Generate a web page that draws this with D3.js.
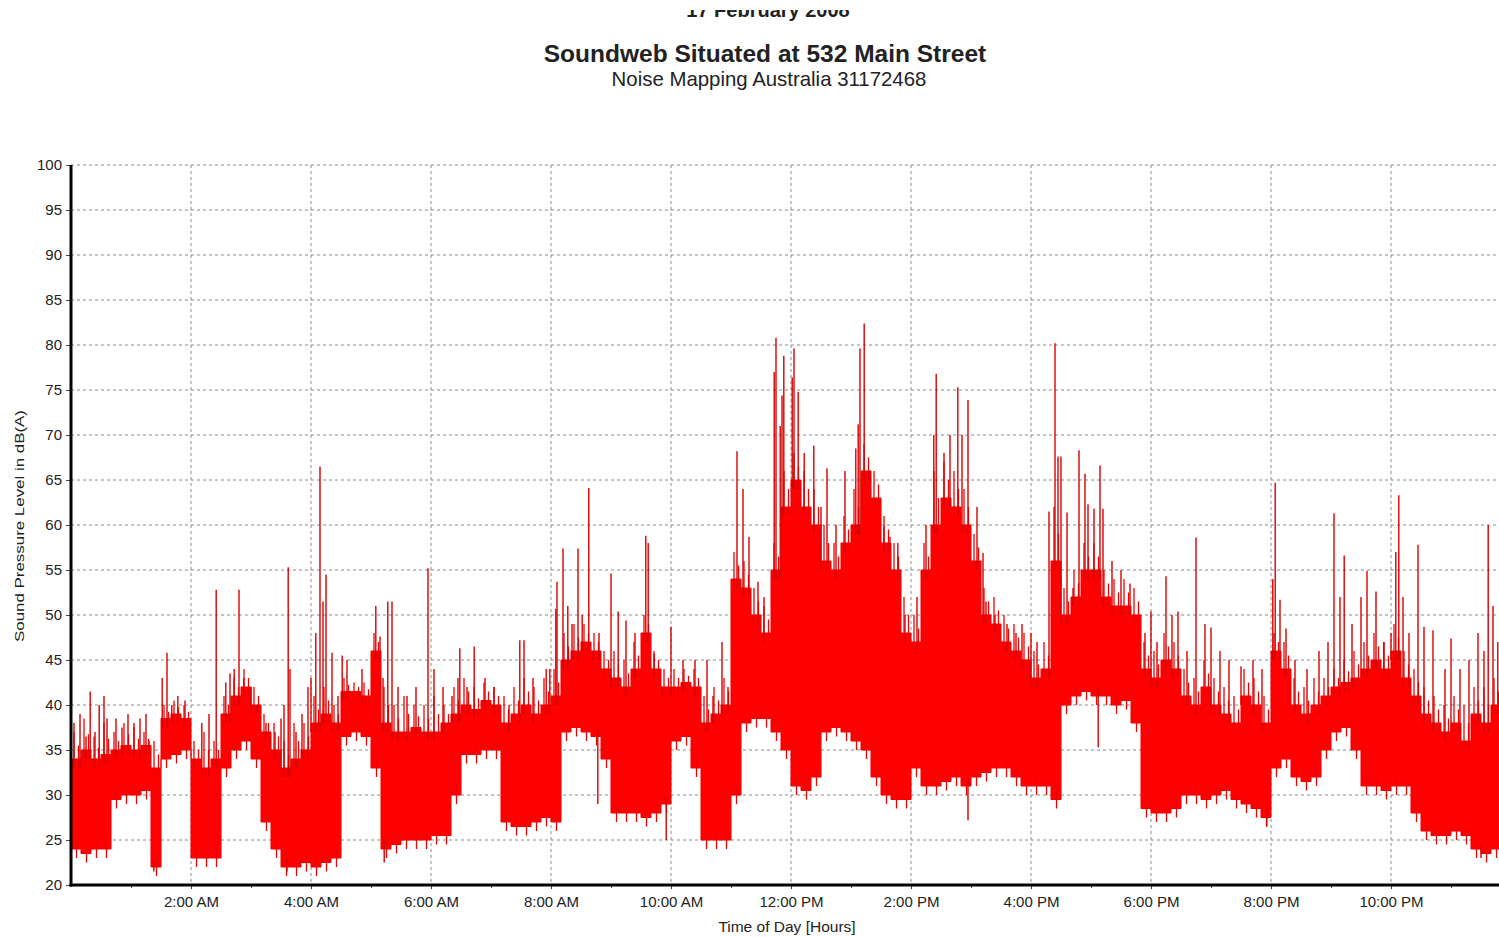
<!DOCTYPE html>
<html><head><meta charset="utf-8">
<script src="https://cdn.jsdelivr.net/npm/d3@7"></script>
<style>
html,body{margin:0;padding:0;background:#fff;}
svg{display:block;font-family:"Liberation Sans",Arial,sans-serif;}
</style></head>
<body>
<svg id="chart" width="1499" height="937"></svg>
<script>
// ---- data (10-minute buckets, envelope of the dense trace, dB(A)) ----
const bucketLow = [
 24,23.5,24,24,29.5,30,   30,30.5,22,34,34.5,35,
 23,23,23,33,35,36,       34,27,24,22,22,22.5,
 22,22.5,23,36.5,37,36.5, 33,24,24.5,25,25,25,
 25.5,25.5,30,34.5,34.5,35, 35,27,26.5,26.5,27,27.5,
 27,37,37.5,37,36.5,34,   28,28,28,27.5,28,29,
 36,36.5,33,25,25,25,     30,38,38.5,38.5,37,35,
 31,30.5,32,37,37.5,37,   36,35,32,30,29.5,29.5,
 33,31,31,31.5,32,31,     32,32.5,33,33,32,31,
 31,31,29.5,40,41,41.5,   41,41,40,40.5,38,28.5,
 28,28,28.5,30,30,29.5,   30,30.5,29.5,29,28.5,27.5,
 33,34,32,31.5,32,35,     37,37.5,35,31,31,30.5,
 31,31,28,26,25.5,25.5,   26,25.5,24,23.5,24,23.5
];
const bucketHigh = [
 34,35,34,34.5,35,35.5,   35,35.5,33,38.5,39,38.5,
 34,33,34,39,41,42,       40,37,35,33,34,35,
 38,39,38,41.5,41.5,41,   46,38,37,37,37.5,37,
 37,38,39,40,39.5,40.5,   40,38,39,40,39,40,
 41,45,46,47,46,44,       43,42,44,48,44,42,
 42,42.5,42,38,39,40,     54,53,50,48,55,62,
 65,62,60,56,55,58,       60,66,63,58,55,48,
 47,55,60,63,62,60,       56,50,49,47,46,45,
 43,44,56,50,52,55,       55,52,51,51,50,44,
 43,45,44,41,40,42,       40,39,38,41,40,38,
 46,44,40,39,40,41,       42,42.5,43,44,45,44,
 46,43,41,39,38,37,       38,36,39,38,40,36
];
// typical top of the frequent short excursions in each bucket
const bucketFringe = [
 37,38.5,36.5,38,37,38,   37.5,37,36,40,40.5,40,
 36,37,36,41,43,44,       42,39,38,36,38,38,
 41,42,40,43,42.5,42.5,   48,42,40,41,40,40,
 41,40,42,43,42,42.5,     42,41,42,43,42,43,
 44,48,49,49,48,46,       46,45,47,50,46,44,
 44,44,44,41,42,43,       57,56,53,51,58,66,
 68,66,64,60,58,61,       64,69,66,61,58,52,
 50,58,66,67,66,64,       59,53,52,50,49,48,
 46,47,62,53,55,58,       58,55,54,54,53,47,
 46,48,47,44,43,45,       43,42,41,44,43,41,
 48,47,43,42,43,43,       44,45,46,47,48,47,
 49,46,44,42,41,40,       41,40,42,42,43,40
];
// isolated peaks: [hour of day, level dB(A)]
const peaks = [
 [0.05,38],[0.15,39],[0.25,36.5],[0.32,41.5],[0.4,37],[0.47,40],[0.55,41],[0.6,38.5],
 [0.75,38.5],[0.85,37.5],[0.95,39],[1.05,38],[1.15,38.5],[1.25,39],[1.3,36],[1.52,43],
 [1.6,45.8],[1.68,40],[1.78,41],[1.9,40.5],[2.18,38],[2.3,39],[2.42,52.8],[2.58,42.5],
 [2.65,43.5],[2.72,44],[2.8,52.8],[2.88,43],[3.0,42],[3.1,40],[3.25,38],[3.4,37],
 [3.5,38.5],[3.55,40],[3.62,55.3],[3.65,44],[3.75,37],[3.85,39],[3.95,42],[4.0,43],
 [4.08,48],[4.15,66.5],[4.2,51.5],[4.25,54.5],[4.35,45.8],[4.45,41],[4.52,45.5],
 [4.6,45],[4.85,44],[5.08,51],[5.15,47.6],[5.2,43],[5.28,51.5],[5.35,51.5],[5.45,42],
 [5.6,41],[5.75,42],[5.95,55.2],[6.05,44],[6.2,42],[6.35,41],[6.45,43],[6.48,46.3],
 [6.6,42],[6.72,46.5],[6.9,43],[7.05,42],[7.3,40],[7.48,47.2],[7.55,47.2],[7.7,43],
 [7.92,44],[7.98,44],[8.08,50.7],[8.1,53.7],[8.2,57.4],[8.28,51],[8.35,49],[8.45,57.4],
 [8.52,50],[8.63,64.1],[8.7,46],[8.8,48],[9.0,54.6],[9.12,50.4],[9.25,49.4],[9.4,48],
 [9.58,58.8],[9.62,58],[9.72,45.7],[9.85,42],[10.0,48.7],[10.2,45],[10.4,45],[10.6,45],
 [10.7,41],[10.85,47],[10.95,42],
 [11.1,68.2],[11.2,64],[11.3,58.7],[11.45,53.7],[11.55,52],[11.72,77],[11.75,80.8],
 [11.82,71],[11.85,74.4],[11.88,78.8],[12.02,76.4],[12.05,79.6],[12.12,74.8],[12.22,68],
 [12.38,68.8],[12.5,62],[12.6,66.3],[12.75,60],[12.9,66],[13.08,68.5],[13.12,71.2],
 [13.15,79.6],[13.22,82.4],[13.3,66],[13.45,62],[13.55,59.9],[13.65,58.7],[13.78,58],
 [13.9,50],[14.1,52],[14.25,60],[14.38,70],[14.42,76.8],[14.55,68],[14.65,70],[14.78,75.3],
 [14.85,70],[14.95,73.9],[15.1,62],[15.2,56.9],[15.25,51.5],[15.4,50],[15.6,49],[15.75,48],
 [15.85,49],[16.0,48],[16.1,47],[16.3,61.5],[16.4,80.2],[16.45,67.6],[16.5,67.6],[16.6,61.4],
 [16.7,53],[16.8,68.3],[16.9,65.7],[16.95,62.3],[17.05,61.8],[17.15,66.6],[17.2,61.8],
 [17.35,56],[17.5,55],[17.65,53.5],
 [17.9,48],[18.0,50.4],[18.1,47],[18.25,54.3],[18.35,50],[18.45,50.4],[18.6,46],[18.75,58.6],
 [18.9,49],[19.0,48.6],[19.15,46],[19.3,45],[19.5,44.3],[19.7,45],[19.85,44],[20.03,54],
 [20.07,64.7],[20.15,51.7],[20.25,48.5],[20.4,45],[20.6,44],[20.8,46],[20.95,47],[21.05,61.3],
 [21.15,52],[21.22,56.6],[21.35,49],[21.5,52],[21.6,54.9],[21.75,52.6],[21.88,47],[22.0,48],
 [22.08,57],[22.13,63.3],[22.2,52],[22.3,48],[22.45,57.8],[22.55,48.7],[22.7,48.3],[22.9,44],
 [23.0,47.4],[23.15,44],[23.3,45],[23.45,48],[23.55,46],[23.62,60],[23.7,51],[23.78,47]
];
// isolated downward dips: [hour, level]
const dips = [
 [1.38,21.5],[3.6,21.5],[5.22,22.5],[8.78,29],[9.92,25],[14.95,27.2],[17.12,35.3],[19.93,26.5],[23.5,23]
];
const yTicks = [20,25,30,35,40,45,50,55,60,65,70,75,80,85,90,95,100];
const xTickHours = [2,4,6,8,10,12,14,16,18,20,22];
const xMinorHours = [1,3,5,7,9,11,13,15,17,19,21,23];
const xTickLabels = ["2:00 AM","4:00 AM","6:00 AM","8:00 AM","10:00 AM","12:00 PM","2:00 PM","4:00 PM","6:00 PM","8:00 PM","10:00 PM"];

// ---- layout ----
const svg = d3.select("#chart");
const L = 71, T = 165, B = 885, R = 1511;
const x = d3.scaleLinear().domain([0,24]).range([L,R]);
const y = d3.scaleLinear().domain([20,100]).range([B,T]);

// titles
svg.append("text").attr("x",768).attr("y",17).attr("text-anchor","middle")
  .attr("font-weight","bold").attr("font-size",20).attr("fill","#222").text("17 February 2008");
svg.append("rect").attr("x",600).attr("y",0).attr("width",320).attr("height",10).attr("fill","#fff");
svg.append("text").attr("x",765).attr("y",62).attr("text-anchor","middle")
  .attr("font-weight","bold").attr("font-size",24.5).attr("fill","#222").text("Soundweb Situated at 532 Main Street");
svg.append("text").attr("x",769).attr("y",86).attr("text-anchor","middle")
  .attr("font-size",20.4).attr("fill","#222").text("Noise Mapping Australia 31172468");

// grid
const grid = svg.append("g").attr("stroke","#8a8a8a").attr("stroke-width",1).attr("stroke-dasharray","3,3");
yTicks.filter(v=>v>20).forEach(v=>{
  grid.append("line").attr("x1",L).attr("x2",1499).attr("y1",y(v)).attr("y2",y(v));
});
xTickHours.forEach(h=>{
  grid.append("line").attr("x1",x(h)).attr("x2",x(h)).attr("y1",T).attr("y2",B);
});

// data body
svg.append("clipPath").attr("id","pc").append("rect")
  .attr("x",L).attr("y",T-5).attr("width",1499-L).attr("height",B-T+5);
const plot = svg.append("g").attr("clip-path","url(#pc)");
const n = bucketLow.length;
const pts = [];
bucketLow.forEach((lo,i)=>{
  pts.push({h:i/6, lo, hi:bucketHigh[i]});
  pts.push({h:(i+1)/6, lo, hi:bucketHigh[i]});
});
const area = d3.area().x(d=>x(d.h)).y0(d=>y(d.lo)).y1(d=>y(d.hi)).curve(d3.curveLinear);
plot.append("path").datum(pts).attr("d",area).attr("fill","#ff0000").attr("stroke","#f00000").attr("stroke-width",1);

// fringe of short excursions (drawn at offsets inside each bucket)
const fringe = [];
bucketFringe.forEach((v,i)=>{
  fringe.push({h:(i+0.3)/6, a:bucketHigh[i]-1, b:v});
  fringe.push({h:(i+0.75)/6, a:bucketHigh[i]-1, b:(v+bucketHigh[i])/2});
  fringe.push({h:(i+0.55)/6, a:bucketLow[i]+1, b:bucketLow[i]-1});
});
plot.append("g").selectAll("line").data(fringe).join("line")
  .attr("x1",d=>x(d.h)).attr("x2",d=>x(d.h)).attr("y1",d=>y(d.a)).attr("y2",d=>y(d.b))
  .attr("stroke","#f00000").attr("stroke-width",1.3);

const bucketOf = h => Math.min(n-1, Math.floor(h*6));
plot.append("g").selectAll("line").data(peaks).join("line")
  .attr("x1",d=>x(d[0])).attr("x2",d=>x(d[0]))
  .attr("y1",d=>y(bucketHigh[bucketOf(d[0])]-1)).attr("y2",d=>y(d[1]))
  .attr("stroke","#d80000").attr("stroke-width",1.4);
plot.append("g").selectAll("line").data(dips).join("line")
  .attr("x1",d=>x(d[0])).attr("x2",d=>x(d[0]))
  .attr("y1",d=>y(bucketLow[bucketOf(d[0])]+1)).attr("y2",d=>y(d[1]))
  .attr("stroke","#d80000").attr("stroke-width",1.4);

// axes
const yAxis = svg.append("g").attr("transform",`translate(${L},0)`)
  .call(d3.axisLeft(y).tickValues(yTicks).tickSize(5).tickPadding(4).tickFormat(d3.format("d")));
yAxis.select(".domain").remove();
yAxis.selectAll("text").attr("font-size",15).attr("fill","#222").attr("font-family","Liberation Sans, Arial, sans-serif");
yAxis.selectAll(".tick line").attr("stroke","#444");

const xAxis = svg.append("g").attr("transform",`translate(0,${B})`)
  .call(d3.axisBottom(x).tickValues(xTickHours).tickSize(4).tickPadding(7).tickFormat((d,i)=>xTickLabels[i]));
xAxis.select(".domain").remove();
xAxis.selectAll("text").attr("font-size",15).attr("fill","#222").attr("font-family","Liberation Sans, Arial, sans-serif");
xAxis.selectAll(".tick line").attr("stroke","#444");
const xMinor = svg.append("g").attr("transform",`translate(0,${B})`)
  .call(d3.axisBottom(x).tickValues(xMinorHours).tickSize(3).tickFormat(""));
xMinor.select(".domain").remove();
xMinor.selectAll(".tick line").attr("stroke","#444");

svg.append("line").attr("x1",L).attr("x2",L).attr("y1",T).attr("y2",B+1.5).attr("stroke","#000").attr("stroke-width",3);
svg.append("line").attr("x1",L-1.5).attr("x2",1499).attr("y1",B).attr("y2",B).attr("stroke","#000").attr("stroke-width",3);

// axis titles
svg.append("text").attr("x",787).attr("y",932).attr("text-anchor","middle")
  .attr("font-size",15.5).attr("fill","#222").text("Time of Day [Hours]");
svg.append("text").attr("transform","translate(24,526) rotate(-90)").attr("text-anchor","middle")
  .attr("font-size",13).attr("textLength",232).attr("lengthAdjust","spacingAndGlyphs")
  .attr("fill","#222").text("Sound Pressure Level in dB(A)");
</script>
</body></html>
